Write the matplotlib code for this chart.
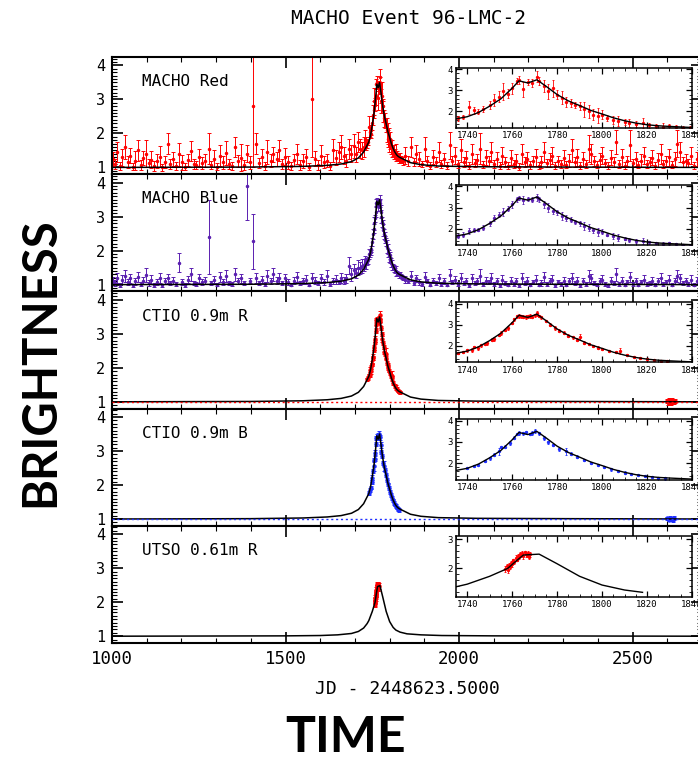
import numpy as np
import matplotlib.pyplot as plt
from matplotlib.ticker import MultipleLocator

# MACHO observation dates (red and blue taken together)
macho_t = [
    1002, 1009, 1015, 1022, 1030, 1037, 1045, 1052, 1060, 1067,
    1075, 1083, 1090, 1098, 1106, 1113, 1121, 1129, 1137, 1144,
    1152, 1160, 1168, 1176, 1184, 1194, 1202, 1210, 1219, 1227,
    1235, 1243, 1252, 1260, 1268, 1279, 1286, 1295, 1303, 1311,
    1320, 1328, 1337, 1345, 1354, 1362, 1371, 1380, 1389, 1397,
    1406, 1414, 1423, 1431, 1440, 1448, 1457, 1465, 1474, 1482,
    1491, 1499, 1508, 1516, 1525, 1533, 1542, 1550, 1559, 1568,
    1577, 1585, 1594, 1602, 1611, 1619, 1628, 1636, 1645, 1653,
    1661, 1668, 1675, 1682, 1689, 1696, 1703, 1709, 1715, 1721,
    1726, 1730, 1733, 1736, 1738, 1741, 1743, 1745, 1747, 1750,
    1752, 1754, 1756, 1758, 1760, 1762, 1763, 1765, 1767, 1769,
    1771, 1772, 1774, 1776, 1778, 1780, 1782, 1784, 1786, 1788,
    1790, 1792, 1794, 1796, 1798, 1800, 1802, 1805, 1807, 1810,
    1812, 1815, 1818, 1821, 1824, 1827, 1830, 1833, 1836, 1839,
    1845, 1853, 1861, 1869, 1877, 1885, 1893, 1901, 1909, 1917,
    1925, 1933, 1941, 1949, 1957, 1965, 1973, 1981, 1989, 1997,
    2005, 2013, 2021, 2029, 2037, 2045, 2053, 2061, 2069, 2077,
    2085, 2093, 2101, 2109, 2117, 2125, 2133, 2141, 2149, 2157,
    2165, 2173, 2181, 2189, 2197, 2205, 2213, 2221, 2229, 2237,
    2245, 2253, 2261, 2269, 2277, 2285, 2293, 2301, 2309, 2317,
    2325, 2333, 2341, 2349, 2357, 2365, 2373, 2381, 2389, 2397,
    2405, 2413, 2421, 2429, 2437, 2445, 2453, 2461, 2469, 2477,
    2485, 2493, 2501, 2509, 2517, 2525, 2533, 2541, 2549, 2557,
    2565, 2573, 2581, 2589, 2597, 2605, 2613, 2621, 2629, 2637,
    2645, 2653, 2661, 2669, 2677, 2685,
]

red_y = [
    1.25, 1.10, 1.45, 1.05, 1.30, 1.60, 1.15, 1.35, 1.02, 1.20,
    1.50, 1.08, 1.28, 1.40, 1.12, 1.22, 1.05, 1.18, 1.32, 1.00,
    1.15, 1.70, 1.10, 1.25, 1.05, 1.38, 1.15, 1.02, 1.22, 1.48,
    1.10, 1.06, 1.30, 1.12, 1.20, 1.55, 1.08, 1.25, 1.02, 1.35,
    1.15, 1.42, 1.10, 1.05, 1.60, 1.18, 1.28, 1.08, 1.40, 1.15,
    2.80, 1.70, 1.12, 1.30, 1.05, 1.45, 1.20, 1.38, 1.25, 1.50,
    1.10, 1.32, 1.15, 1.05, 1.22, 1.40, 1.08, 1.18, 1.30, 1.02,
    3.00, 1.25, 1.08, 1.35, 1.15, 1.20, 1.05, 1.50, 1.28, 1.45,
    1.60, 1.35, 1.20, 1.55, 1.40, 1.62, 1.38, 1.75, 1.55, 1.50,
    1.60, 1.85, 1.70, 1.68, 1.75, 2.20, 2.05, 1.98, 2.10, 2.30,
    2.55, 2.70, 2.95, 2.85, 3.10, 3.45, 3.50, 3.05, 3.40, 3.35,
    3.65, 3.45, 3.20, 2.95, 3.10, 2.80, 2.65, 2.45, 2.40, 2.30,
    2.25, 2.10, 2.00, 1.85, 1.80, 1.85, 1.70, 1.60, 1.55, 1.50,
    1.45, 1.40, 1.45, 1.35, 1.30, 1.28, 1.30, 1.25, 1.22, 1.20,
    1.35, 1.20, 1.60, 1.15, 1.40, 1.25, 1.10, 1.55, 1.20, 1.05,
    1.30, 1.15, 1.45, 1.10, 1.25, 1.05, 1.65, 1.20, 1.35, 1.10,
    1.50, 1.15, 1.28, 1.05, 1.40, 1.12, 1.22, 1.55, 1.08, 1.30,
    1.18, 1.45, 1.10, 1.25, 1.05, 1.35, 1.15, 1.05, 1.28, 1.10,
    1.20, 1.02, 1.40, 1.15, 1.25, 1.08, 1.18, 1.30, 1.05, 1.15,
    1.45, 1.12, 1.22, 1.35, 1.05, 1.18, 1.10, 1.28, 1.08, 1.20,
    1.50, 1.15, 1.30, 1.05, 1.25, 1.10, 1.55, 1.40, 1.18, 1.08,
    1.22, 1.35, 1.12, 1.05, 1.28, 1.15, 1.75, 1.10, 1.30, 1.05,
    1.18, 1.65, 1.12, 1.25, 1.08, 1.20, 1.35, 1.10, 1.15, 1.28,
    1.05, 1.22, 1.40, 1.10, 1.18, 1.30, 1.08, 1.25, 1.70, 1.45,
    1.15, 1.20, 1.12, 1.35, 1.05, 1.25,
]

red_e = [
    0.20, 0.15, 0.30, 0.12, 0.25, 0.35, 0.18, 0.22, 0.10, 0.28,
    0.30, 0.15, 0.20, 0.40, 0.12, 0.25, 0.15, 0.20, 0.30, 0.10,
    0.18, 0.30, 0.15, 0.20, 0.12, 0.35, 0.22, 0.10, 0.18, 0.30,
    0.15, 0.12, 0.25, 0.18, 0.20, 0.45, 0.12, 0.25, 0.10, 0.30,
    0.20, 0.35, 0.15, 0.12, 0.30, 0.18, 0.40, 0.15, 0.25, 0.20,
    1.80, 0.30, 0.15, 0.25, 0.12, 0.35, 0.18, 0.22, 0.20, 0.30,
    0.15, 0.25, 0.20, 0.12, 0.18, 0.30, 0.15, 0.20, 0.25, 0.10,
    1.70, 0.22, 0.15, 0.30, 0.18, 0.20, 0.12, 0.35, 0.22, 0.30,
    0.35, 0.25, 0.20, 0.30, 0.25, 0.35, 0.22, 0.30, 0.28, 0.25,
    0.30, 0.25, 0.20, 0.12, 0.10, 0.30, 0.15, 0.12, 0.15, 0.20,
    0.30, 0.25, 0.40, 0.20, 0.25, 0.15, 0.20, 0.35, 0.15, 0.20,
    0.25, 0.20, 0.30, 0.35, 0.40, 0.20, 0.30, 0.25, 0.20, 0.15,
    0.20, 0.35, 0.30, 0.25, 0.35, 0.20, 0.15, 0.20, 0.25, 0.15,
    0.20, 0.15, 0.25, 0.12, 0.10, 0.15, 0.12, 0.10, 0.10, 0.12,
    0.25, 0.15, 0.30, 0.12, 0.25, 0.20, 0.10, 0.35, 0.15, 0.10,
    0.20, 0.15, 0.30, 0.12, 0.18, 0.10, 0.40, 0.15, 0.25, 0.12,
    0.35, 0.15, 0.20, 0.10, 0.30, 0.12, 0.18, 0.45, 0.10, 0.22,
    0.15, 0.30, 0.12, 0.20, 0.10, 0.25, 0.15, 0.10, 0.22, 0.12,
    0.18, 0.10, 0.30, 0.15, 0.20, 0.12, 0.15, 0.25, 0.10, 0.18,
    0.30, 0.12, 0.20, 0.25, 0.10, 0.15, 0.12, 0.22, 0.10, 0.18,
    0.35, 0.15, 0.25, 0.10, 0.20, 0.12, 0.40, 0.30, 0.15, 0.10,
    0.20, 0.25, 0.12, 0.10, 0.22, 0.15, 0.35, 0.12, 0.25, 0.10,
    0.15, 0.45, 0.12, 0.20, 0.10, 0.18, 0.25, 0.12, 0.15, 0.22,
    0.10, 0.20, 0.30, 0.12, 0.15, 0.25, 0.10, 0.20, 0.40, 0.30,
    0.15, 0.18, 0.12, 0.25, 0.10, 0.20,
]

blue_y = [
    1.12, 1.05, 1.20, 1.00, 1.15, 1.25, 1.08, 1.18, 0.98, 1.10,
    1.22, 1.02, 1.12, 1.28, 1.05, 1.15, 1.00, 1.08, 1.20, 0.98,
    1.10, 1.18, 1.05, 1.12, 1.02, 1.65, 1.08, 1.00, 1.15, 1.30,
    1.05, 1.02, 1.18, 1.08, 1.12, 2.40, 1.05, 1.15, 1.00, 1.22,
    1.08, 1.25, 1.05, 1.02, 1.30, 1.10, 1.18, 1.05, 3.90, 1.12,
    2.27, 1.20, 1.05, 1.15, 1.02, 1.25, 1.10, 1.30, 1.12, 1.20,
    1.05, 1.18, 1.08, 1.00, 1.12, 1.22, 1.05, 1.10, 1.15, 1.00,
    1.20, 1.12, 1.05, 1.18, 1.08, 1.25, 1.02, 1.10, 1.15, 1.08,
    1.20, 1.12, 1.18, 1.55, 1.30, 1.42, 1.35, 1.50, 1.48, 1.55,
    1.58, 1.65, 1.62, 1.66, 1.72, 1.90, 1.92, 1.95, 2.05, 2.25,
    2.50, 2.65, 2.80, 2.95, 3.15, 3.40, 3.45, 3.35, 3.42, 3.38,
    3.48, 3.40, 3.15, 3.00, 2.85, 2.78, 2.60, 2.50, 2.42, 2.32,
    2.25, 2.12, 2.05, 1.92, 1.85, 1.86, 1.72, 1.65, 1.58, 1.52,
    1.48, 1.42, 1.40, 1.35, 1.32, 1.28, 1.30, 1.25, 1.22, 1.20,
    1.15, 1.10, 1.25, 1.05, 1.18, 1.08, 1.02, 1.22, 1.10, 1.00,
    1.12, 1.05, 1.20, 1.02, 1.10, 1.00, 1.28, 1.08, 1.15, 1.02,
    1.20, 1.05, 1.12, 0.98, 1.18, 1.05, 1.10, 1.25, 1.02, 1.12,
    1.08, 1.20, 1.02, 1.10, 0.98, 1.15, 1.05, 1.00, 1.12, 1.02,
    1.10, 0.98, 1.18, 1.05, 1.12, 1.00, 1.08, 1.15, 1.00, 1.05,
    1.22, 1.02, 1.10, 1.15, 0.98, 1.08, 1.02, 1.12, 1.00, 1.10,
    1.20, 1.05, 1.12, 0.98, 1.10, 1.02, 1.25, 1.18, 1.05, 1.00,
    1.10, 1.15, 1.02, 0.98, 1.12, 1.05, 1.30, 1.02, 1.12, 1.00,
    1.08, 1.22, 1.02, 1.10, 1.00, 1.08, 1.15, 1.02, 1.05, 1.12,
    1.00, 1.10, 1.18, 1.02, 1.08, 1.15, 1.00, 1.10, 1.25, 1.18,
    1.05, 1.10, 1.02, 1.15, 1.00, 1.12,
]

blue_e = [
    0.10, 0.08, 0.15, 0.06, 0.12, 0.18, 0.08, 0.12, 0.05, 0.10,
    0.15, 0.06, 0.10, 0.20, 0.08, 0.12, 0.06, 0.08, 0.15, 0.05,
    0.08, 0.12, 0.06, 0.10, 0.05, 0.28, 0.08, 0.06, 0.10, 0.18,
    0.06, 0.05, 0.12, 0.08, 0.10, 1.10, 0.06, 0.10, 0.05, 0.15,
    0.08, 0.18, 0.06, 0.05, 0.20, 0.08, 0.12, 0.06, 1.00, 0.08,
    0.80, 0.15, 0.06, 0.10, 0.05, 0.18, 0.08, 0.20, 0.10, 0.15,
    0.06, 0.12, 0.08, 0.05, 0.10, 0.15, 0.06, 0.08, 0.12, 0.05,
    0.15, 0.10, 0.06, 0.12, 0.08, 0.18, 0.05, 0.08, 0.12, 0.06,
    0.15, 0.10, 0.12, 0.25, 0.18, 0.20, 0.15, 0.22, 0.18, 0.20,
    0.18, 0.20, 0.15, 0.08, 0.10, 0.15, 0.10, 0.08, 0.10, 0.12,
    0.15, 0.12, 0.20, 0.10, 0.15, 0.12, 0.10, 0.18, 0.10, 0.12,
    0.15, 0.12, 0.18, 0.20, 0.15, 0.12, 0.18, 0.15, 0.12, 0.10,
    0.12, 0.20, 0.15, 0.12, 0.18, 0.10, 0.08, 0.12, 0.15, 0.08,
    0.10, 0.08, 0.15, 0.06, 0.06, 0.08, 0.06, 0.05, 0.06, 0.06,
    0.10, 0.06, 0.15, 0.05, 0.10, 0.08, 0.05, 0.15, 0.06, 0.05,
    0.08, 0.05, 0.12, 0.06, 0.08, 0.05, 0.18, 0.06, 0.10, 0.05,
    0.15, 0.06, 0.08, 0.05, 0.12, 0.06, 0.08, 0.20, 0.05, 0.10,
    0.06, 0.15, 0.05, 0.08, 0.05, 0.12, 0.06, 0.05, 0.10, 0.06,
    0.08, 0.05, 0.15, 0.06, 0.10, 0.05, 0.06, 0.12, 0.05, 0.08,
    0.15, 0.05, 0.08, 0.12, 0.05, 0.06, 0.05, 0.10, 0.05, 0.08,
    0.15, 0.06, 0.10, 0.05, 0.08, 0.05, 0.18, 0.12, 0.06, 0.05,
    0.08, 0.12, 0.05, 0.05, 0.10, 0.06, 0.20, 0.05, 0.10, 0.05,
    0.06, 0.15, 0.05, 0.08, 0.05, 0.06, 0.12, 0.05, 0.06, 0.10,
    0.05, 0.08, 0.15, 0.05, 0.06, 0.12, 0.05, 0.08, 0.18, 0.12,
    0.06, 0.08, 0.05, 0.12, 0.05, 0.10,
]

# CTIO 0.9m R
ctio_r_t = [
    1736, 1738, 1740, 1742, 1743, 1745, 1746, 1748, 1749, 1751,
    1752, 1754, 1755, 1757, 1758, 1760, 1761, 1762, 1763, 1764,
    1765, 1766, 1767, 1768, 1769, 1770, 1771, 1772, 1773, 1775,
    1777, 1779, 1781, 1783, 1785, 1787, 1789, 1790, 1792, 1794,
    1796, 1798, 1800, 1803, 1806, 1808, 1811, 1814, 1817, 1820,
    1823, 1826, 1829,
    2598, 2602, 2605, 2608, 2611, 2614, 2617, 2620, 2623,
]
ctio_r_y = [
    1.66, 1.70, 1.78, 1.80, 1.95, 1.90, 2.02, 2.10, 2.12, 2.30,
    2.32, 2.52, 2.60, 2.75, 2.85, 3.08, 3.25, 3.40, 3.42, 3.40,
    3.38, 3.36, 3.40, 3.42, 3.38, 3.45, 3.55, 3.42, 3.35, 3.18,
    3.00, 2.85, 2.72, 2.62, 2.48, 2.40, 2.30, 2.42, 2.15, 2.08,
    2.00, 1.92, 1.86, 1.76, 1.70, 1.75, 1.55, 1.47, 1.42, 1.38,
    1.33, 1.30, 1.28,
    1.02, 0.98, 1.05, 1.00, 0.97, 1.04, 1.01, 0.99, 1.03,
]
ctio_r_e = [
    0.05, 0.06, 0.05, 0.08, 0.06, 0.08, 0.06, 0.05, 0.08, 0.06,
    0.08, 0.06, 0.08, 0.06, 0.08, 0.06, 0.08, 0.06, 0.08, 0.06,
    0.06, 0.08, 0.06, 0.08, 0.06, 0.08, 0.12, 0.06, 0.08, 0.06,
    0.06, 0.08, 0.06, 0.06, 0.08, 0.06, 0.06, 0.15, 0.06, 0.05,
    0.06, 0.05, 0.06, 0.05, 0.06, 0.15, 0.05, 0.05, 0.06, 0.05,
    0.05, 0.05, 0.05,
    0.06, 0.06, 0.06, 0.06, 0.06, 0.06, 0.06, 0.06, 0.06,
]

# CTIO 0.9m B
ctio_b_t = [
    1740, 1743, 1745, 1748, 1750, 1752, 1754, 1755, 1757, 1759,
    1761, 1762, 1763, 1765, 1766, 1768, 1769, 1770, 1772, 1774,
    1776, 1778, 1781, 1784, 1786, 1789, 1792, 1795, 1798, 1801,
    1804, 1807, 1810, 1813, 1816, 1819, 1822, 1825, 1828,
    2600, 2604, 2608, 2612, 2616, 2620,
]
ctio_b_y = [
    1.76, 1.85, 1.92, 2.10, 2.22, 2.40, 2.55, 2.75, 2.78, 2.95,
    3.20, 3.38, 3.42, 3.40, 3.45, 3.38, 3.42, 3.50, 3.40, 3.18,
    2.98, 2.85, 2.65, 2.55, 2.45, 2.30, 2.15, 2.02, 1.90, 1.80,
    1.70, 1.62, 1.55, 1.48, 1.42, 1.38, 1.33, 1.30, 1.27,
    1.02, 0.98, 1.04, 1.00, 0.97, 1.03,
]
ctio_b_e = [
    0.05, 0.06, 0.05, 0.06, 0.08, 0.06, 0.15, 0.06, 0.06, 0.08,
    0.06, 0.06, 0.08, 0.06, 0.08, 0.06, 0.08, 0.10, 0.06, 0.08,
    0.06, 0.06, 0.06, 0.15, 0.06, 0.06, 0.06, 0.05, 0.06, 0.05,
    0.06, 0.05, 0.05, 0.06, 0.05, 0.05, 0.05, 0.05, 0.05,
    0.05, 0.05, 0.05, 0.05, 0.05, 0.05,
]

# UTSO 0.61m R
utso_t = [1757, 1757.5, 1758, 1758.5, 1759, 1759.5, 1760, 1760.5, 1761, 1761.5,
          1762, 1762.5, 1763, 1763.5, 1764, 1764.5, 1765, 1765.5, 1766, 1766.5,
          1767, 1767.5, 1768]
utso_y = [1.98, 2.08, 1.95, 2.12, 2.05, 2.18, 2.15, 2.28, 2.22, 2.35,
          2.30, 2.42, 2.38, 2.50, 2.45, 2.52, 2.42, 2.55, 2.48, 2.45,
          2.52, 2.40, 2.48]
utso_e = [0.10, 0.08, 0.10, 0.08, 0.06, 0.08, 0.10, 0.06, 0.08, 0.10,
          0.06, 0.08, 0.06, 0.08, 0.06, 0.08, 0.10, 0.06, 0.08, 0.06,
          0.08, 0.06, 0.08]

# fitted light curves
model_t = [1000, 1400, 1550, 1620, 1660, 1690, 1710, 1725, 1735, 1740,
           1745, 1750, 1755, 1760, 1763, 1767, 1771, 1775, 1780, 1785,
           1790, 1795, 1800, 1805, 1810, 1815, 1820, 1825, 1830, 1840,
           1860, 1890, 1940, 2050, 2300, 2700]
model_y = [1.00, 1.01, 1.03, 1.06, 1.10, 1.17, 1.28, 1.45, 1.65, 1.75,
           1.95, 2.25, 2.60, 3.10, 3.45, 3.35, 3.50, 3.20, 2.80, 2.50,
           2.28, 2.05, 1.88, 1.70, 1.56, 1.45, 1.37, 1.32, 1.29, 1.24,
           1.14, 1.08, 1.04, 1.02, 1.01, 1.00]

utso_model_t = [1000, 1500, 1600, 1650, 1690, 1710, 1725, 1735, 1740, 1750,
                1758, 1762, 1765, 1772, 1780, 1790, 1800, 1810, 1818, 1830,
                1850, 1890, 1950, 2100, 2700]
utso_model_y = [1.00, 1.01, 1.02, 1.04, 1.08, 1.14, 1.24, 1.37, 1.46, 1.73,
                2.00, 2.27, 2.46, 2.49, 2.16, 1.73, 1.43, 1.26, 1.18, 1.12,
                1.07, 1.04, 1.02, 1.01, 1.00]

labels = ["MACHO Red", "MACHO Blue", "CTIO 0.9m R", "CTIO 0.9m B", "UTSO 0.61m R"]

RED = '#ff0000'
PURPLE = '#5a1fb0'
BLUE = '#1f2fff'
MONO = 'DejaVu Sans Mono'

panels = [
    (labels[0], macho_t, red_y, red_e, RED, model_t, model_y, False, (1.22, 4.08), [2, 3, 4], 1840),
    (labels[1], macho_t, blue_y, blue_e, PURPLE, model_t, model_y, False, (1.22, 4.08), [2, 3, 4], 1840),
    (labels[2], ctio_r_t, ctio_r_y, ctio_r_e, RED, model_t, model_y, True, (1.22, 4.08), [2, 3, 4], 1840),
    (labels[3], ctio_b_t, ctio_b_y, ctio_b_e, BLUE, model_t, model_y, True, (1.22, 4.08), [2, 3, 4], 1840),
    (labels[4], utso_t, utso_y, utso_e, RED, utso_model_t, utso_model_y, False, (1.03, 3.10), [2, 3], 1818),
]

fig = plt.figure(figsize=(6.98, 7.58), dpi=100)

left = 112 / 698
width = (702 - 112) / 698
h = 117.2 / 758
bot0 = (758 - 643) / 758

for i, (lab, t, y, e, col, mt, my, dotted, iylim, iyt, mcut) in enumerate(panels):
    ax = fig.add_axes([left, bot0 + (4 - i) * h, width, h])
    big = i >= 2
    ax.errorbar(t, y, yerr=e, fmt='o', ms=2.2 if big else 1.5, color=col, ecolor=col,
                elinewidth=0.7, capsize=1.3, capthick=0.7, zorder=2)
    if dotted:
        ax.axhline(1.0, color=col, ls=(0, (1.5, 2)), lw=1.0, zorder=4)
    ax.plot(mt, my, color='k', lw=1.1, zorder=3)
    ax.set_xlim(1000, 2700)
    ax.set_ylim(0.8, 4.25)
    ax.set_yticks([1, 2, 3, 4])
    ax.xaxis.set_major_locator(MultipleLocator(500))
    ax.xaxis.set_minor_locator(MultipleLocator(100))
    ax.yaxis.set_minor_locator(MultipleLocator(0.1))
    ax.tick_params(which='both', direction='in', top=True, right=True)
    ax.tick_params(which='major', length=8, width=1.2, labelsize=11, pad=5)
    ax.tick_params(which='minor', length=3.5, width=0.8)
    for lbl in ax.get_xticklabels() + ax.get_yticklabels():
        lbl.set_family(MONO)
    for s in ax.spines.values():
        s.set_linewidth(1.5)
    if i < 4:
        ax.tick_params(labelbottom=False)
    else:
        ax.set_xticks([1000, 1500, 2000, 2500])
        ax.tick_params(axis='x', labelsize=12.5)
        ax.set_xlabel("JD - 2448623.5000", family=MONO, fontsize=13, labelpad=9)
    ax.text(0.05, 0.79, lab, transform=ax.transAxes, family=MONO, fontsize=11.5,
            va='center', ha='left')

    # zoom on the peak
    ins = ax.inset_axes([0.583, 0.395, 0.40, 0.515])
    ins.errorbar(t, y, yerr=e, fmt='o', ms=1.4, color=col, ecolor=col,
                 elinewidth=0.6, capsize=1.0, capthick=0.6, zorder=2)
    mt_a = np.array(mt)
    keep = mt_a <= mcut
    ins.plot(mt_a[keep], np.array(my)[keep], color='k', lw=1.0, zorder=3)
    ins.set_xlim(1735, 1840)
    ins.set_ylim(*iylim)
    ins.set_yticks(iyt)
    ins.set_xticks([1740, 1760, 1780, 1800, 1820, 1840])
    ins.xaxis.set_minor_locator(MultipleLocator(5))
    ins.yaxis.set_minor_locator(MultipleLocator(0.2))
    ins.tick_params(which='both', direction='in', top=True, right=True)
    ins.tick_params(which='major', length=4, width=0.9, labelsize=6.5, pad=2.5)
    ins.tick_params(which='minor', length=2, width=0.6)
    for lbl in ins.get_xticklabels() + ins.get_yticklabels():
        lbl.set_family(MONO)
    for s in ins.spines.values():
        s.set_linewidth(1.1)

fig.text(0.585, 0.976, "MACHO Event 96-LMC-2", family=MONO, fontsize=14,
         ha='center', va='center')
fig.text(0.057, 0.522, "BRIGHTNESS", family='Lato', fontweight='bold', fontsize=34,
         rotation=90, ha='center', va='center')
fig.text(0.495, 0.027, "TIME", family='Lato', fontweight='bold', fontsize=36,
         ha='center', va='center')

fig.savefig('out.png', dpi=100)
